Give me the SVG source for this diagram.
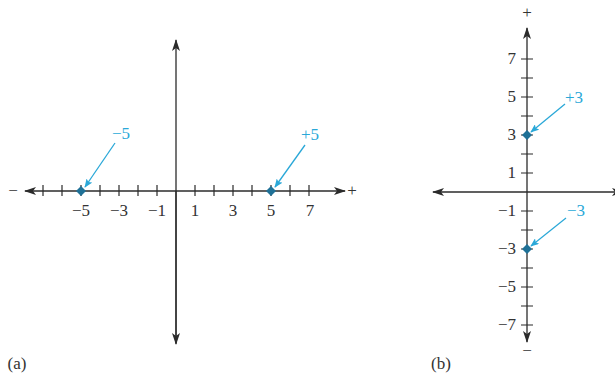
<svg xmlns="http://www.w3.org/2000/svg" width="615" height="375" viewBox="0 0 615 375">
<defs>
<marker id="ah" viewBox="0 0 12 8" refX="11" refY="4" markerWidth="12" markerHeight="8" markerUnits="userSpaceOnUse" orient="auto">
<path d="M0,0 L12,4 L0,8 L3,4 Z" fill="#2b2b2b"/>
</marker>
<marker id="ca" viewBox="0 0 10 8" refX="9" refY="4" markerWidth="9" markerHeight="7" markerUnits="userSpaceOnUse" orient="auto">
<path d="M0,0 L10,4 L0,8 L2,4 Z" fill="#2aa8d8"/>
</marker>
<style>
.ax{stroke:#2b2b2b;stroke-width:1.3;fill:none}
.tk{stroke:#2b2b2b;stroke-width:1.2}
text{font-family:'Liberation Serif','Times New Roman',serif;font-size:17px}
.t{fill:#333}
.c{fill:#2aa8d8}
.cl{stroke:#2aa8d8;stroke-width:1.3;fill:none}
.pt{fill:#1f7197}
</style>
</defs>
<rect width="615" height="375" fill="#fff"/>
<g id="panel-a">
<g id="axes-a">
<line class="ax" x1="176" y1="343" x2="176" y2="40" marker-end="url(#ah)"/>
<line class="ax" x1="176" y1="191" x2="176" y2="344" marker-end="url(#ah)"/>
<line class="ax" x1="176" y1="191" x2="345" y2="191" marker-end="url(#ah)"/>
<line class="ax" x1="176" y1="191" x2="25" y2="191" marker-end="url(#ah)"/>
</g>
<g id="ticks-a">
<path class="tk" d="M43,185v11M62,185v11M81,185v11M100,185v11M119,185v11M138,185v11M157,185v11M195,185v11M214,185v11M233,185v11M252,185v11M271,185v11M290,185v11M309,185v11"/>
</g>
<g id="labels-a" class="t" text-anchor="middle">
<text x="13" y="196">−</text>
<text x="352" y="196">+</text>
<text x="81" y="216">−5</text>
<text x="119" y="216">−3</text>
<text x="157" y="216">−1</text>
<text x="195" y="216">1</text>
<text x="233" y="216">3</text>
<text x="271" y="216">5</text>
<text x="310" y="216">7</text>
<text x="17" y="369">(a)</text>
</g>
<g id="point-neg5">
<path class="pt" d="M81,186 L86,191 L81,196 L76,191 Z"/>
<text class="c" x="121" y="139" text-anchor="middle">−5</text>
<line class="cl" x1="115" y1="143" x2="85" y2="187" marker-end="url(#ca)"/>
</g>
<g id="point-pos5">
<path class="pt" d="M271,186 L276,191 L271,196 L266,191 Z"/>
<text class="c" x="310" y="140" text-anchor="middle">+5</text>
<line class="cl" x1="305" y1="145" x2="275" y2="187" marker-end="url(#ca)"/>
</g>
</g>
<g id="panel-b">
<g id="axes-b">
<line class="ax" x1="527" y1="192" x2="527" y2="28" marker-end="url(#ah)"/>
<line class="ax" x1="527" y1="192" x2="527" y2="342" marker-end="url(#ah)"/>
<line class="ax" x1="527" y1="192" x2="433" y2="192" marker-end="url(#ah)"/>
<line class="ax" x1="527" y1="192" x2="623" y2="192" marker-end="url(#ah)"/>
</g>
<g id="ticks-b">
<path class="tk" d="M521,59h12M521,78h12M521,97h12M521,116h12M521,135h12M521,154h12M521,173h12M521,211h12M521,230h12M521,249h12M521,268h12M521,287h12M521,306h12M521,325h12"/>
</g>
<g id="labels-b" class="t">
<text x="527" y="18" text-anchor="middle">+</text>
<text x="527" y="356" text-anchor="middle">−</text>
<text x="516" y="64" text-anchor="end">7</text>
<text x="516" y="102" text-anchor="end">5</text>
<text x="516" y="140" text-anchor="end">3</text>
<text x="516" y="178" text-anchor="end">1</text>
<text x="516" y="216" text-anchor="end">−1</text>
<text x="516" y="254" text-anchor="end">−3</text>
<text x="516" y="292" text-anchor="end">−5</text>
<text x="516" y="330" text-anchor="end">−7</text>
<text x="441" y="369" text-anchor="middle">(b)</text>
</g>
<g id="point-pos3">
<path class="pt" d="M527,130 L532,135 L527,140 L522,135 Z"/>
<text class="c" x="574" y="103" text-anchor="middle">+3</text>
<line class="cl" x1="565" y1="104" x2="531" y2="132" marker-end="url(#ca)"/>
</g>
<g id="point-neg3">
<path class="pt" d="M527,244 L532,249 L527,254 L522,249 Z"/>
<text class="c" x="576" y="216" text-anchor="middle">−3</text>
<line class="cl" x1="566" y1="218" x2="531" y2="246" marker-end="url(#ca)"/>
</g>
</g>
</svg>
